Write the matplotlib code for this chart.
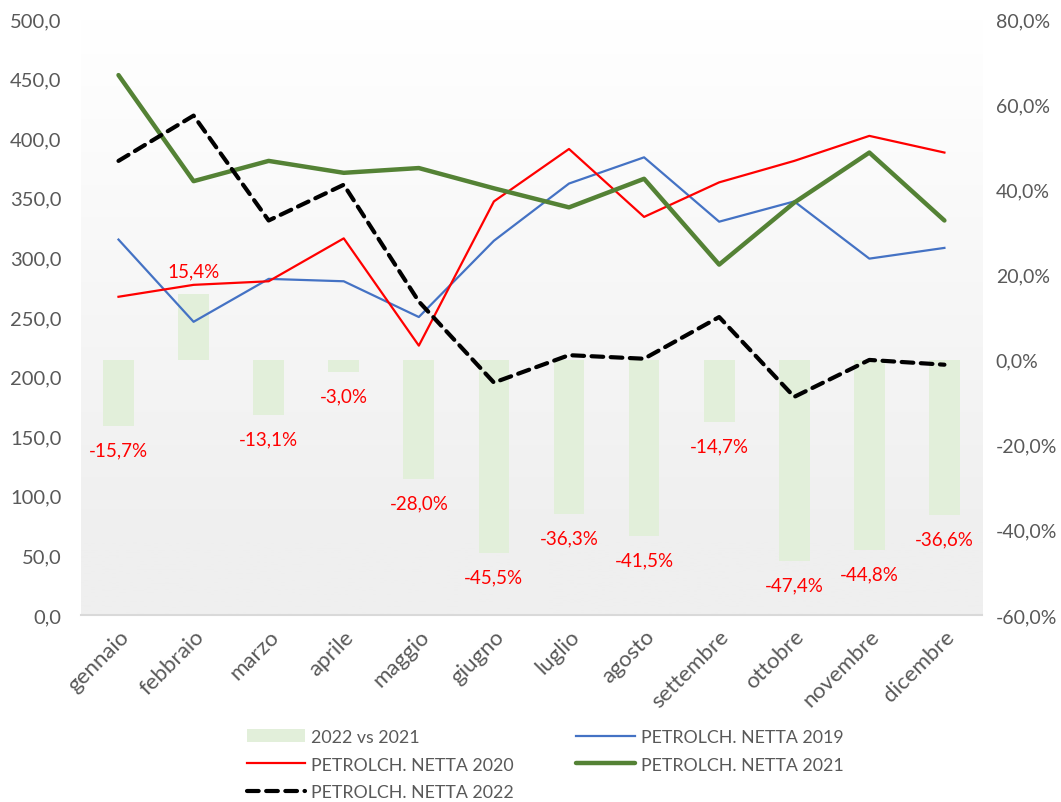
import numpy as np
import matplotlib
matplotlib.use("Agg")
import matplotlib.pyplot as plt

plt.rcParams["font.family"] = ["Lato", "DejaVu Sans"]

# Data
months = ["gennaio", "febbraio", "marzo", "aprile", "maggio", "giugno",
          "luglio", "agosto", "settembre", "ottobre", "novembre", "dicembre"]
netta_2019 = [315, 246, 282, 280, 250, 314, 362, 384, 330, 347, 299, 308]
netta_2020 = [267, 277, 280, 316, 226, 347, 391, 334, 363, 381, 402, 388]
netta_2021 = [453, 364, 381, 371, 375, 358, 342, 366, 294, 346, 388, 331]
netta_2022 = [381, 419, 331, 361, 263, 195, 218, 215, 250, 183, 214, 210]
var_22_21 = [-15.7, 15.4, -13.1, -3.0, -28.0, -45.5, -36.3, -41.5, -14.7,
             -47.4, -44.8, -36.6]

left_ticks = [0, 50, 100, 150, 200, 250, 300, 350, 400, 450, 500]
right_ticks = [-60, -40, -20, 0, 20, 40, 60, 80]

TXT = "#595959"

fig = plt.figure(figsize=(10.61, 8.03), dpi=100)
ax2 = fig.add_axes([0.0763, 0.2329, 0.8492, 0.7421])  # bars, right axis
ax1 = ax2.twinx()  # lines, left axis
ax1.yaxis.tick_left()
ax2.yaxis.tick_right()
ax1.set_zorder(ax2.get_zorder() + 1)
ax1.patch.set_visible(False)

x = np.arange(len(months))

# gradient background of the plot area
grad = np.linspace(0, 1, 256).reshape(-1, 1)
grad = np.clip((grad - 0.12) / 0.88, 0, 1)
cmap = matplotlib.colors.LinearSegmentedColormap.from_list(
    "bg", ["#efefef", "#ffffff"])
ax2.imshow(grad, cmap=cmap, aspect="auto", origin="lower",
           extent=[0, 1, 0, 1], transform=ax2.transAxes, zorder=0)

# bars
bars = ax2.bar(x, var_22_21, width=0.41, color="#e2efda", zorder=2,
               label="2022 vs 2021")
for xi, v in zip(x, var_22_21):
    off = 17 if v > 0 else -17
    ax2.annotate(f"{v:.1f}%".replace(".", ","), (xi, v),
                 xytext=(0, off), textcoords="offset points",
                 ha="center", va="center", color="red", fontsize=13.5)

# lines
l19, = ax1.plot(x, netta_2019, color="#4472c4", lw=1.6,
                label="PETROLCH. NETTA 2019")
l20, = ax1.plot(x, netta_2020, color="#ff0000", lw=1.6,
                label="PETROLCH. NETTA 2020")
l21, = ax1.plot(x, netta_2021, color="#548235", lw=3.2,
                label="PETROLCH. NETTA 2021", solid_capstyle="round")
l22, = ax1.plot(x, netta_2022, color="black", lw=3.0, dashes=(2.8, 1.8),
                dash_capstyle="round", label="PETROLCH. NETTA 2022")

ax2.set_xlim(-0.5, len(months) - 0.5)
ax1.set_ylim(0, 500)
ax2.set_ylim(-60, 80)

ax1.set_yticks(left_ticks)
ax1.set_yticklabels([f"{t:.1f}".replace(".", ",") for t in left_ticks])
ax2.set_yticks(right_ticks)
ax2.set_yticklabels([f"{t:.1f}%".replace(".", ",") for t in right_ticks])
ax2.set_xticks(x)
ax2.set_xticklabels(months, rotation=45, ha="right", rotation_mode="anchor")
ax1.tick_params(axis="x", length=0, labelbottom=False)

ax1.tick_params(axis="y", length=0, pad=14, labelsize=14.5, labelcolor=TXT)
ax2.tick_params(axis="y", length=0, pad=10, labelsize=14, labelcolor=TXT)
ax2.tick_params(axis="x", length=0, pad=8, labelsize=16, labelcolor=TXT)

for a in (ax1, ax2):
    for s in a.spines.values():
        s.set_visible(False)
ax2.spines["bottom"].set_visible(True)
ax2.spines["bottom"].set_color("#d9d9d9")
ax2.spines["bottom"].set_linewidth(1.5)
ax2.spines["bottom"].set_zorder(5)

# legend, column-major order to get the reference layout
handles = [bars, l20, l22, l19, l21]
leg = fig.legend(handles=handles, labels=[h.get_label() for h in handles],
                 ncol=2, loc="upper center", bbox_to_anchor=(0.514, 0.1),
                 frameon=False, fontsize=12.8, handlelength=3.3,
                 handletextpad=0.35, columnspacing=3.5, labelspacing=0.66,
                 borderaxespad=0)
for t in leg.get_texts():
    t.set_color(TXT)

fig.savefig("out.png", dpi=100)
